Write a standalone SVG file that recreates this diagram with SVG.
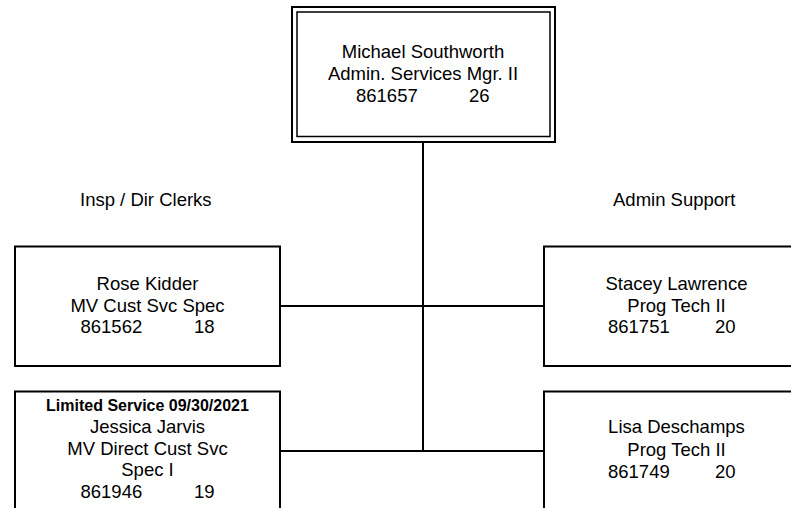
<svg xmlns="http://www.w3.org/2000/svg" width="791" height="508" viewBox="0 0 791 508">
<style>
.box{fill:#fff;stroke:#000;stroke-width:2}
.t{font-family:"Liberation Sans",Arial,sans-serif;font-size:18.5px;fill:#000}
.c{text-anchor:middle}
.b{font-weight:bold;font-size:16px}
.conn{stroke:#000;stroke-width:2;fill:none}
</style>
<rect width="791" height="508" fill="#fff"/>
<g id="connectors">
<line class="conn" x1="423" y1="141" x2="423" y2="452"/>
<line class="conn" x1="280" y1="306" x2="544" y2="306"/>
<line class="conn" x1="280" y1="451" x2="544" y2="451"/>
</g>
<g id="manager">
<rect class="box" x="292" y="7" width="263" height="135"/>
<rect x="297" y="12" width="253" height="124.5" fill="none" stroke="#000" stroke-width="1.5"/>
<text class="t c" x="423" y="58">Michael Southworth</text>
<text class="t c" x="423" y="80">Admin. Services Mgr. II</text>
<text class="t" x="356" y="101.5">861657</text>
<text class="t" x="469" y="101.5">26</text>
</g>
<g id="label-left">
<text class="t" x="80" y="206">Insp / Dir Clerks</text>
</g>
<g id="label-right">
<text class="t" x="613" y="206">Admin Support</text>
</g>
<g id="rose">
<rect class="box" x="15" y="246.5" width="265" height="119.5"/>
<text class="t c" x="147.5" y="290">Rose Kidder</text>
<text class="t c" x="147.5" y="311.5">MV Cust Svc Spec</text>
<text class="t" x="80.5" y="333">861562</text>
<text class="t" x="194" y="333">18</text>
</g>
<g id="jessica">
<rect class="box" x="15" y="391.5" width="265" height="130"/>
<text class="t c b" x="147.5" y="411">Limited Service 09/30/2021</text>
<text class="t c" x="147.5" y="433">Jessica Jarvis</text>
<text class="t c" x="147.5" y="454.5">MV Direct Cust Svc</text>
<text class="t c" x="147.5" y="476">Spec I</text>
<text class="t" x="80.5" y="498">861946</text>
<text class="t" x="194" y="498">19</text>
</g>
<g id="stacey">
<rect class="box" x="544" y="246.5" width="265" height="119.5"/>
<text class="t c" x="676.5" y="290">Stacey Lawrence</text>
<text class="t c" x="676.5" y="311.5">Prog Tech II</text>
<text class="t" x="608" y="333">861751</text>
<text class="t" x="715" y="333">20</text>
</g>
<g id="lisa">
<rect class="box" x="544" y="391.5" width="265" height="130"/>
<text class="t c" x="676.5" y="433">Lisa Deschamps</text>
<text class="t c" x="676.5" y="455.5">Prog Tech II</text>
<text class="t" x="608" y="477.5">861749</text>
<text class="t" x="715" y="477.5">20</text>
</g>
</svg>
